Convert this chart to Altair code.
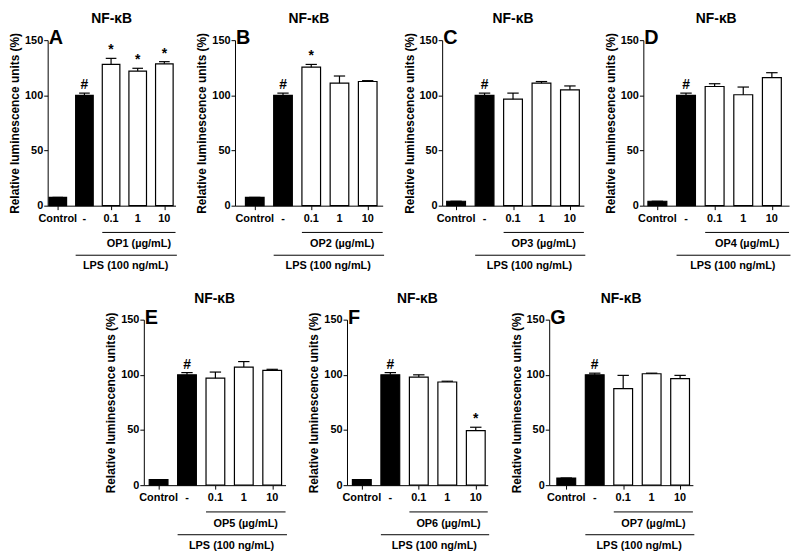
import altair as alt
import pandas as pd

# ---- data ----
categories = ["Control", "-", "0.1", "1", "10"]
bar_fill = ["black", "black", "white", "white", "white"]
panel_letters = ["A", "B", "C", "D", "E", "F", "G"]
extract_names = ["OP1", "OP2", "OP3", "OP4", "OP5", "OP6", "OP7"]

op1_values = [7.5, 100, 128, 122, 128.5]
op1_errors = [0, 2, 5.5, 2.5, 2]
op1_marks = ["", "#", "*", "*", "*"]

op2_values = [7.5, 100, 125.5, 111, 112.5]
op2_errors = [0, 2, 2.5, 6.5, 0.8]
op2_marks = ["", "#", "*", "", ""]

op3_values = [4, 100, 96.5, 111, 105]
op3_errors = [0, 2, 5.5, 1.5, 3.5]
op3_marks = ["", "#", "", "", ""]

op4_values = [4, 100, 108, 100.5, 116]
op4_errors = [0, 2, 2.5, 7, 4.5]
op4_marks = ["", "#", "", "", ""]

op5_values = [5, 100, 97, 107, 104]
op5_errors = [0, 2, 5.5, 5, 1]
op5_marks = ["", "#", "", "", ""]

op6_values = [5, 100, 98, 93.5, 49.5]
op6_errors = [0, 2, 2, 0.7, 3]
op6_marks = ["", "#", "", "", "*"]

op7_values = [6.5, 100, 87.5, 101, 96.5]
op7_errors = [0, 1.5, 12, 0.5, 3]
op7_marks = ["", "#", "", "", ""]

all_values = [op1_values, op2_values, op3_values, op4_values, op5_values, op6_values, op7_values]
all_errors = [op1_errors, op2_errors, op3_errors, op4_errors, op5_errors, op6_errors, op7_errors]
all_marks = [op1_marks, op2_marks, op3_marks, op4_marks, op5_marks, op6_marks, op7_marks]

# ---- layout (per panel) ----
FONT = "Liberation Sans"
H = 167
widths = [129, 149, 143, 147, 143, 142, 145]
x_min = [-0.38, -0.7, -0.49, -0.49, -0.52, -0.52, -0.6]
x_max = [4.42, 4.53, 4.49, 4.6, 4.47, 4.42, 4.45]
HALF = 0.33
CAP = 0.2


def panel(i):
    df = pd.DataFrame({
        "idx": list(range(len(categories))),
        "cat": categories,
        "value": all_values[i],
        "err": all_errors[i],
        "sig": all_marks[i],
        "fill": bar_fill,
    })
    df["left"] = df["idx"] - HALF
    df["right"] = df["idx"] + HALF
    df["top"] = df["value"] + df["err"]
    df["cap_l"] = df["idx"] - CAP
    df["cap_r"] = df["idx"] + CAP

    xs = alt.Scale(domain=[x_min[i], x_max[i]], nice=False, zero=False)
    ys = alt.Scale(domain=[0, 150], nice=False)
    xaxis = alt.Axis(values=list(range(len(categories))), labels=False, title=None,
                     grid=False, tickSize=4, domainColor="black", tickColor="black")
    yaxis = alt.Axis(values=[0, 50, 100, 150], title="Relative luminescence units (%)",
                     grid=False, tickSize=4, labelPadding=1, labelFontSize=11,
                     labelFontWeight="bold", labelColor="black", domainColor="black",
                     tickColor="black", titleFontSize=12, titleFontWeight="bold",
                     titleColor="black", titlePadding=3, labelFont=FONT, titleFont=FONT,
                     labelOverlap=False)

    base = alt.Chart(df)
    bars = base.mark_bar(stroke="black", strokeWidth=1.2).encode(
        x=alt.X("left:Q", scale=xs, axis=xaxis),
        x2="right:Q",
        y=alt.Y("value:Q", scale=ys, axis=yaxis),
        y2=alt.datum(0),
        fill=alt.Fill("fill:N", scale=None, legend=None),
    )
    err = base.mark_rule(color="black", strokeWidth=1.2).encode(
        x=alt.X("idx:Q", axis=xaxis), y=alt.Y("value:Q", axis=yaxis), y2="top:Q")
    cap = base.mark_rule(color="black", strokeWidth=1.2).encode(
        x=alt.X("cap_l:Q", axis=xaxis), x2="cap_r:Q", y=alt.Y("top:Q", axis=yaxis))
    sig = base.transform_filter("datum.sig != ''").mark_text(
        fontSize=14, fontWeight="bold", font=FONT, baseline="alphabetic", dy=-4, color="black"
    ).encode(x=alt.X("idx:Q", axis=xaxis), y=alt.Y("top:Q", axis=yaxis), text="sig:N")
    xlabels = base.mark_text(fontSize=11, fontWeight="bold", font=FONT, baseline="middle",
                             color="black").encode(
        x=alt.X("idx:Q", axis=xaxis), y=alt.value(H + 13), text="cat:N")

    one = alt.Chart(pd.DataFrame({"k": [0]}))
    op_start = 2 - HALF
    lps_start = 1 - HALF
    end = x_max[i]
    op_line = one.mark_rule(color="black", strokeWidth=1).encode(
        x=alt.datum(op_start), x2=alt.datum(end), y=alt.value(H + 27))
    op_text = one.mark_text(fontSize=11, fontWeight="bold", font=FONT, baseline="middle").encode(
        x=alt.datum((op_start + end) / 2), y=alt.value(H + 39),
        text=alt.value(f"{extract_names[i]} (µg/mL)"))
    lps_line = one.mark_rule(color="black", strokeWidth=1).encode(
        x=alt.datum(lps_start), x2=alt.datum(end + 0.05), y=alt.value(H + 50))
    lps_text = one.mark_text(fontSize=11, fontWeight="bold", font=FONT, baseline="middle").encode(
        x=alt.datum((lps_start + end) / 2), y=alt.value(H + 61),
        text=alt.value("LPS (100 ng/mL)"))
    letter = one.mark_text(fontSize=20, fontWeight="bold", font=FONT, align="left",
                           baseline="middle").encode(
        x=alt.value(1), y=alt.value(-2), text=alt.value(panel_letters[i]))
    title = one.mark_text(fontSize=14, fontWeight="bold", font=FONT, align="center",
                          baseline="middle").encode(
        x=alt.value(widths[i] / 2), y=alt.value(-21), text=alt.value("NF-κB"))

    return alt.layer(bars, err, cap, sig, xlabels, op_line, op_text, lps_line, lps_text,
                     letter, title).properties(width=widths[i], height=H)


top = alt.hconcat(*[panel(i) for i in range(4)], spacing=60, bounds="flush")
bottom = alt.hconcat(*[panel(i) for i in range(4, 7)], spacing=62, bounds="flush")

chart = alt.vconcat(top, bottom, spacing=21, center=True).properties(
    padding={"left": 0, "top": 2, "right": 0, "bottom": 0}
).configure_view(stroke=None)

chart.save("out.html", embed_options={"renderer": "svg", "actions": False})
